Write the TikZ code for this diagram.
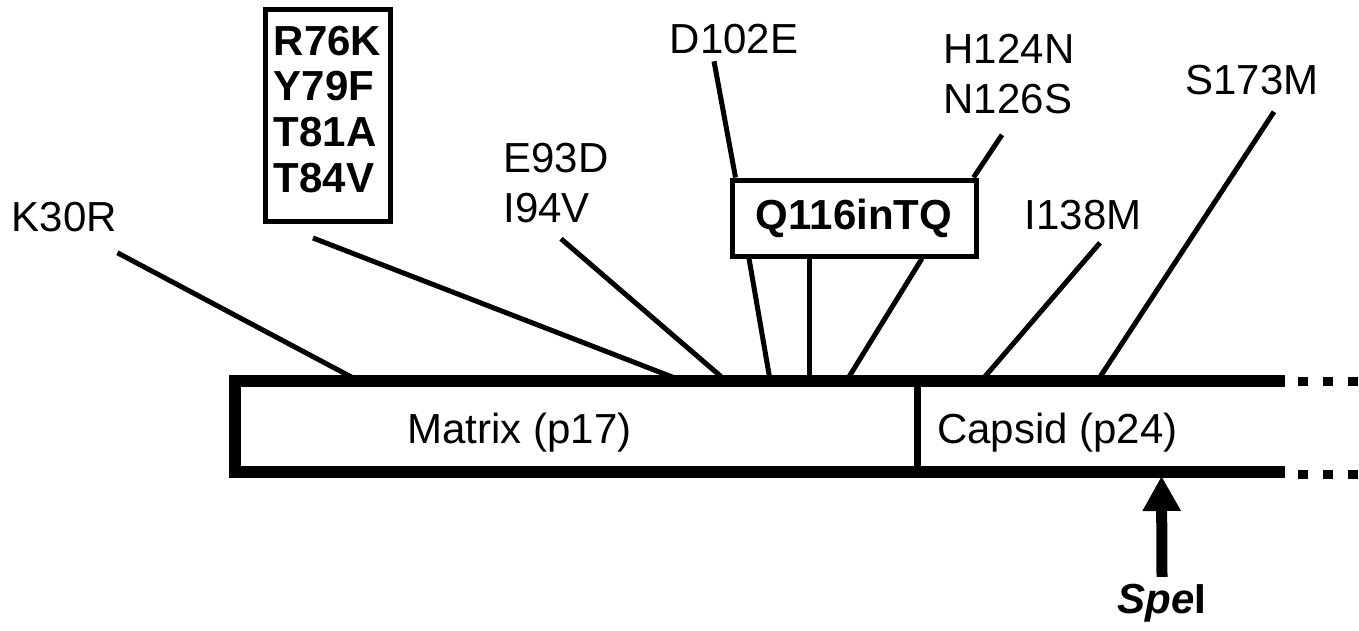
\documentclass[tikz,border=0pt]{standalone}
\usepackage{fontspec}
\setmainfont{Liberation Sans}
\usetikzlibrary{arrows.meta}

\begin{document}
\begin{tikzpicture}[x=0.5pt, y=-0.5pt, mut style/.style={inner sep=0pt, align=left, font=\fontsize{21}{25}\selectfont}, box style/.style={draw, line width=2.5pt, inner sep=2pt, align=left, font=\bfseries\fontsize{21}{22.85}\selectfont}, link style/.style={line width=2.5pt}, bar style/.style={line width=6pt}, dot style/.style={line width=4.5pt, dash pattern=on 5pt off 7.5pt}, arrow style/.style={line width=5.5pt, -{Triangle[width=18pt, length=17.5pt]}}]
	\useasboundingbox (0,0) rectangle (1359,631);
	% Gag bar
	\draw[bar style] (1285,381) -- (235,381) -- (235,472) -- (1285,472);
	\draw[line width=3.5pt] (917,381) -- (917,472);
	\draw[dot style] (1298,381) -- (1358,381);
	\draw[dot style] (1298,474) -- (1358,474);
	\node[mut style, anchor=base] (Matrix) at (519.5,443) {Matrix (p17)};
	\node[mut style, anchor=base] (Capsid) at (1057.5,443) {Capsid (p24)};
	% points on the bar
	\coordinate (P30) at (357,380);
	\coordinate (P76) at (680,380);
	\coordinate (P93) at (725,380);
	\coordinate (Q1) at (770,380);
	\coordinate (Q2) at (809,380);
	\coordinate (Q3) at (847,380);
	\coordinate (P138) at (982,380);
	\coordinate (P173) at (1098,380);
	\coordinate (cut) at (1161.5,476);
	% mutations
	\node[mut style] (K30R) at (64.5,217.5) {K30R};
	\node[box style, minimum width=62.5pt, minimum height=105.5pt, text depth=6.5pt] (R76K) at (327.5,115.5) {R76K\\Y79F\\T81A\\T84V};
	\node[mut style] (E93D) at (556,183.5) {E93D\\I94V};
	\node[mut style] (D102E) at (734,39) {D102E};
	\node[box style, minimum width=122pt, minimum height=38pt] (Q116) at (854,218) {Q116inTQ};
	\node[mut style] (H124N) at (1009,74) {H124N\\N126S};
	\node[mut style] (I138M) at (1083,215) {I138M};
	\node[mut style] (S173M) at (1252,80) {S173M};
	\node[mut style, anchor=base, font=\bfseries\fontsize{21}{25}\selectfont] (SpeI) at (1162,613) {\textit{Spe}I};
	\draw[link style] ([shift={(0,20)}]K30R.south east) -- (P30);
	\draw[link style] ([shift={(-14.5,14.5)}]R76K.south) -- (P76);
	\draw[link style] ([shift={(5,15)}]E93D.south) -- (P93);
	\draw[link style] ([shift={(-20,7)}]D102E.south) -- ([shift={(6,0)}]Q116.north west);
	\foreach \dx/\p in {-105/Q1, -45/Q2, 68/Q3}
	\draw[link style] ([shift={(\dx,0)}]Q116.south) -- (\p);
	\draw[link style] ([shift={(-7,20.5)}]H124N.south) -- ([shift={(-5,0)}]Q116.north east);
	\draw[link style] ([shift={(17,12.5)}]I138M.south) -- (P138);
	\draw[link style] ([shift={(22,16.5)}]S173M.south) -- (P173);
	\draw[arrow style] ([shift={(0,-6.5)}]SpeI.north) -- (cut);
\end{tikzpicture}
\end{document}
